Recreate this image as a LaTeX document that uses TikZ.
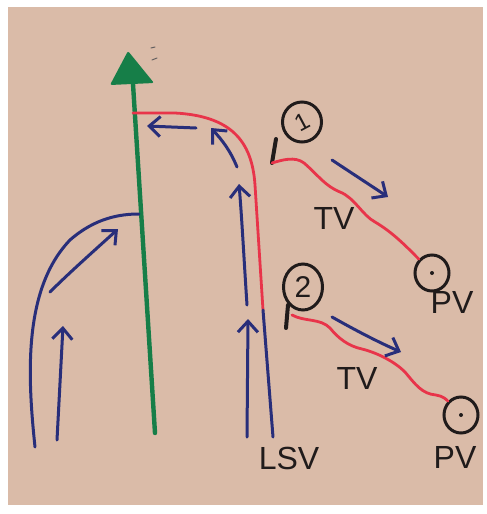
\documentclass[tikz,border=0pt]{standalone}
\usepackage{fontspec}
\setmainfont{Liberation Sans}
\usetikzlibrary{arrows.meta,shapes.geometric}
\definecolor{paper}{RGB}{218,187,168}
\definecolor{ink}{RGB}{40,46,122}
\definecolor{redink}{RGB}{232,52,74}
\definecolor{greenink}{RGB}{22,126,72}
\definecolor{blk}{RGB}{32,27,27}
\begin{document}
\begin{tikzpicture}[x=1pt,y=-1pt,
  blueline/.style={ink, line width=3pt, line cap=round, line join=round},
  bluearrow/.style={blueline, -{Straight Barb[length=11pt,width=20pt]}},
  redline/.style={redink, line width=2.8pt, line cap=round, line join=round},
  ring/.style={draw=blk, line width=3pt, ellipse, inner sep=0pt},
  tick/.style={blk, line width=4pt, line cap=round},
  lbl/.style={blk, font=\fontsize{32}{32}\selectfont, inner sep=0pt},
  num/.style={blk, font=\fontsize{24}{24}\selectfont, inner sep=0pt}
]
% background and paper
\fill[white] (0,0) rectangle (487,514);
\fill[paper] (8,7) rectangle (483,505);
\useasboundingbox (0,0) rectangle (487,514);

% green main vessel with arrow head
\coordinate (gtop) at (133,84);
\coordinate (gbot) at (155,433);
\draw[greenink, line width=4.4pt, line cap=round] (gbot) -- (gtop);
\fill[greenink, rounded corners=2pt] (128,51) -- (154,83) -- (110,85) -- cycle;
\draw[blk!70, line width=1pt, line cap=round] (151,48) -- (155,47);
\draw[blk!70, line width=1pt, line cap=round] (152,60) -- (157,58);

% red arch joining green
\coordinate (rjoin) at (133,113);
\coordinate (rbot) at (263,310);
\draw[redline] (rjoin) -- (175,113) .. controls (230,116) and (252,140) .. (255,185)
  -- (rbot);
% blue LSV continuation
\coordinate (lsvbot) at (273,437);
\draw[blueline] (rbot) -- (lsvbot);

% blue arrows along arch
\draw[bluearrow] (247,305) .. controls (244,260) and (242,220) .. (239,184);
\draw[bluearrow] (237,167) .. controls (230,150) and (222,140) .. (211,128);
\draw[bluearrow] (196,128) -- (147,126);
\draw[bluearrow] (247,437) -- (248,319);

% left blue curve to green
\coordinate (ljoin) at (139,214);
\draw[blueline] (35,447) .. controls (28,380) and (22,290) .. (70,240)
  .. controls (95,218) and (120,214) .. (ljoin);
\draw[bluearrow] (50,292) .. controls (70,272) and (95,250) .. (118,229);
\draw[bluearrow] (57,440) -- (63,326);

% upper TV group
\node[ring, minimum width=39pt, minimum height=40pt] (c1) at (302,122) {};
\node[num, rotate=28] at (c1.center) {1};
\coordinate (t1a) at (276,139);
\coordinate (t1b) at (272,163);
\draw[tick] (t1a) -- (t1b);
\node[ring, minimum width=34pt, minimum height=36pt] (pv1) at (432,273) {};
\fill[blk] (pv1.center) circle (2);
\draw[redline] (t1b) .. controls (282,160) and (295,156) .. (304,163)
  .. controls (318,175) and (325,186) .. (340,192)
  .. controls (355,198) and (362,215) .. (375,222)
  .. controls (392,232) and (405,245) .. (pv1.north west);
\draw[bluearrow] (332,160) .. controls (350,172) and (370,185) .. (388,197);
\node[lbl] (tv1) at (334,218) {TV};
\node[lbl] (pvl1) at (452,302) {PV};

% lower TV group
\node[ring, minimum width=39pt, minimum height=46pt] (c2) at (303,287) {};
\node[num, font=\fontsize{30}{30}\selectfont] at (c2.center) {2};
\coordinate (t2a) at (288,305);
\coordinate (t2b) at (286,328);
\draw[tick] (t2a) -- (t2b);
\node[ring, minimum width=34pt, minimum height=36pt] (pv2) at (461,415) {};
\fill[blk] (pv2.center) circle (2);
\draw[redline] (292,315) .. controls (305,322) and (320,318) .. (330,328)
  .. controls (338,338) and (348,346) .. (362,349)
  .. controls (378,353) and (395,362) .. (405,372)
  .. controls (415,384) and (422,394) .. (436,395)
  .. controls (443,396) and (447,400) .. (pv2.north west);
\draw[bluearrow] (332,317) .. controls (355,330) and (378,342) .. (401,352);
\node[lbl] (tv2) at (357,378) {TV};
\node[lbl] (pvl2) at (455,457) {PV};
\node[lbl] (lsv) at (289,458) {LSV};
\end{tikzpicture}
\end{document}
